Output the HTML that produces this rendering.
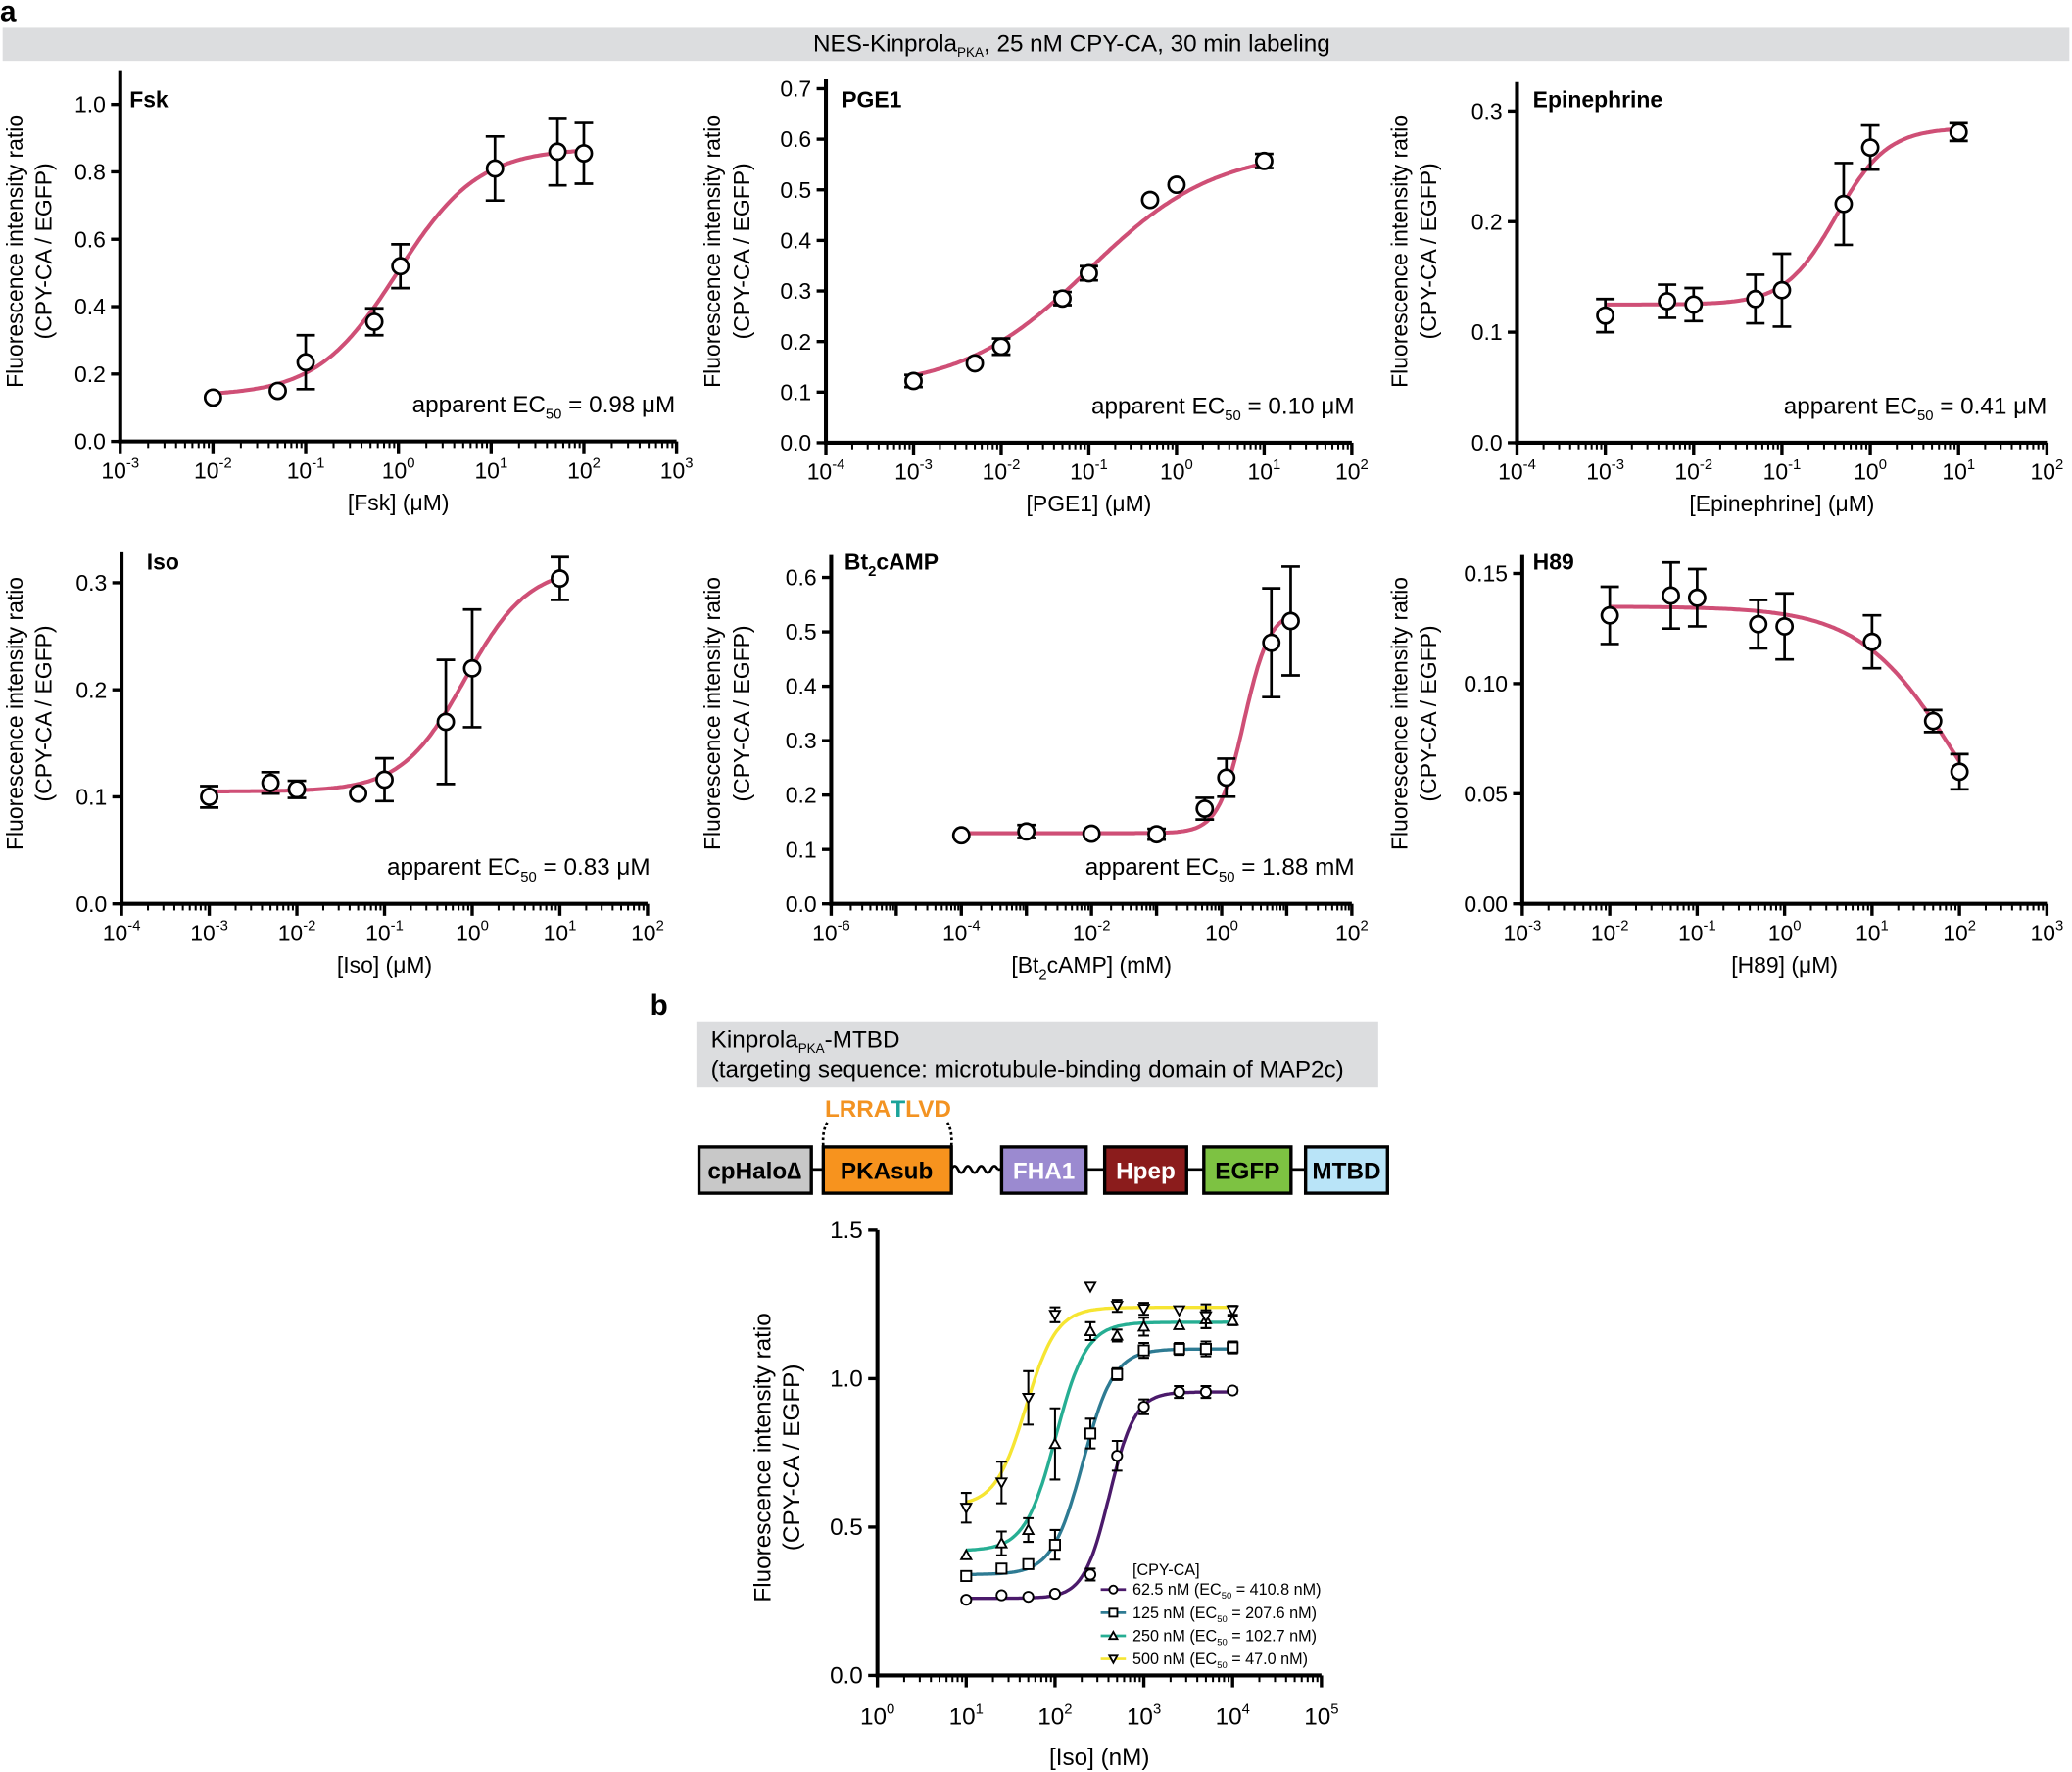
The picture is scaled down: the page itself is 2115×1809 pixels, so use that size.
<!DOCTYPE html>
<html><head><meta charset="utf-8"><style>
html,body{margin:0;padding:0;background:#fff}
svg{display:block}
text{font-family:"Liberation Sans",sans-serif}
</style></head><body>
<svg id="s" width="2115" height="1809" viewBox="0 0 1568 1341" xmlns="http://www.w3.org/2000/svg">
<text x="0" y="16" font-size="22" font-weight="bold">a</text>
<rect x="2" y="21" width="1564" height="25" fill="#dcdddf"/>
<text x="811" y="39" font-size="18" text-anchor="middle">NES-Kinprola<tspan font-size="10" dy="4">PKA</tspan><tspan dy="-4">, 25 nM CPY-CA, 30 min labeling</tspan></text>
<text x="492" y="768" font-size="22" font-weight="bold">b</text>
<rect x="527" y="773" width="516" height="50" fill="#dcdddf"/>
<text x="538" y="793" font-size="18">Kinprola<tspan font-size="10" dy="4">PKA</tspan><tspan dy="-4">-MTBD</tspan></text>
<text x="538" y="815" font-size="18">(targeting sequence: microtubule-binding domain of MAP2c)</text>
<text x="672" y="845" font-size="18" font-weight="bold" text-anchor="middle" fill="#f39322">LRRA<tspan fill="#1aa39a">T</tspan>LVD</text>
<path d="M623 867 Q622 855 627 848 M720 867 Q721 855 716 848" stroke="#000" stroke-width="2" stroke-dasharray="2,2" fill="none"/>
<g stroke="#000" stroke-width="2">
<line x1="614" y1="885" x2="623" y2="885"/><line x1="822" y1="885" x2="836" y2="885"/><line x1="898" y1="885" x2="911" y2="885"/><line x1="977" y1="885" x2="988" y2="885"/>
<path d="M720 885 q2.5 -5 5 0 q2.5 5 5 0 q2.5 -5 5 0 q2.5 5 5 0 q2.5 -5 5 0 q2.5 5 5 0 q2.5 -5 5 0" fill="none"/>
<line x1="755" y1="885" x2="758" y2="885"/>
<rect x="529" y="868" width="85" height="35" fill="#c8c8c8" stroke-width="2.5"/>
<rect x="623" y="868" width="97" height="35" fill="#f7931e" stroke-width="2.5"/>
<rect x="758" y="868" width="64" height="35" fill="#9b8ad0" stroke-width="2.5"/>
<rect x="836" y="868" width="62" height="35" fill="#8b1c1c" stroke-width="2.5"/>
<rect x="911" y="868" width="66" height="35" fill="#7dc242" stroke-width="2.5"/>
<rect x="988" y="868" width="62" height="35" fill="#b9e4f8" stroke-width="2.5"/>
</g>
<g font-size="18" font-weight="bold" text-anchor="middle">
<text x="571" y="892">cpHalo∆</text><text x="671" y="892">PKAsub</text>
<text x="790" y="892" fill="#fff">FHA1</text><text x="867" y="892" fill="#fff">Hpep</text>
<text x="944" y="892">EGFP</text><text x="1019" y="892">MTBD</text>
</g>
<g id="plots"></g>
</svg>
<script>
var out="";
function sig(x,b,t,ec,h){return b+(t-b)/(1+Math.pow(ec/x,h));}
function sup(base,e,fs){return base+'<tspan font-size="'+Math.round(fs*0.62)+'" dy="-8">'+e+'</tspan>';}
function plot(p){
 var X=function(v){return p.x0+(Math.log10(v)-p.l0)/(p.l1-p.l0)*(p.x1-p.x0);};
 var Y=function(v){return p.y0-(v/p.ymax)*(p.y0-p.y1);};
 var fs=p.fs||17,s="",step=p.step||1;
 s+='<line x1="'+p.x0+'" y1="'+p.top+'" x2="'+p.x0+'" y2="'+(p.y0+1.5)+'" stroke="#000" stroke-width="3"/>';
 s+='<line x1="'+(p.x0-1.5)+'" y1="'+p.y0+'" x2="'+p.x1+'" y2="'+p.y0+'" stroke="#000" stroke-width="3"/>';
 for(var i=0;i<p.yt.length;i++){var yy=Y(p.yt[i]);
  s+='<line x1="'+(p.x0-7)+'" y1="'+yy+'" x2="'+p.x0+'" y2="'+yy+'" stroke="#000" stroke-width="2.5"/>';
  s+='<text x="'+(p.x0-11)+'" y="'+(yy+6)+'" font-size="'+fs+'" text-anchor="end">'+p.ytl[i]+'</text>';}
 for(var d=p.l0;d<=p.l1;d++){var xx=X(Math.pow(10,d));
  s+='<line x1="'+xx+'" y1="'+p.y0+'" x2="'+xx+'" y2="'+(p.y0+9)+'" stroke="#000" stroke-width="2.5"/>';
  if((d-p.l0)%step==0)s+='<text x="'+xx+'" y="'+(p.y0+(p.tly||28))+'" font-size="'+fs+'" text-anchor="middle">'+sup('10',d,fs)+'</text>';
  if(d<p.l1)for(var m=2;m<10;m++){var xm=X(m*Math.pow(10,d));s+='<line x1="'+xm+'" y1="'+p.y0+'" x2="'+xm+'" y2="'+(p.y0+5)+'" stroke="#000" stroke-width="1.5"/>';}}
 s+='<text x="'+((p.x0+p.x1)/2)+'" y="'+(p.y0+(p.xly||52))+'" font-size="'+fs+'" text-anchor="middle">'+p.xl+'</text>';
 s+='<text transform="translate('+p.ylx+','+p.yly+') rotate(-90)" font-size="'+fs+'" text-anchor="middle"><tspan x="0" y="0">Fluorescence intensity ratio</tspan><tspan x="0" y="22">(CPY-CA / EGFP)</tspan></text>';
 if(p.title)s+='<text x="'+p.tx+'" y="'+p.ty+'" font-size="17" font-weight="bold">'+p.title+'</text>';
 if(p.ec)s+='<text x="'+p.ecx+'" y="'+(p.y0-22)+'" font-size="18" text-anchor="end">'+p.ec+'</text>';
 for(var k=0;k<p.series.length;k++){var S=p.series[k];
  var a=Math.log10(S.d[0][0]),b=Math.log10(S.d[S.d.length-1][0]),pts=[];
  for(var j=0;j<=200;j++){var lx=a+(b-a)*j/200;pts.push(X(Math.pow(10,lx)).toFixed(1)+","+Y(S.f(Math.pow(10,lx))).toFixed(1));}
  s+='<polyline points="'+pts.join(" ")+'" fill="none" stroke="'+S.c+'" stroke-width="'+S.w+'"/>';
  for(var j=0;j<S.d.length;j++){var q=S.d[j],cx=X(q[0]),cy=Y(q[1]);
   if(q[2]>0){var t=Y(q[1]+q[2]),bo=Y(q[1]-q[2]),cw=S.cap;
    s+='<path d="M'+cx+' '+t+'V'+bo+'M'+(cx-cw)+' '+t+'H'+(cx+cw)+'M'+(cx-cw)+' '+bo+'H'+(cx+cw)+'" stroke="#000" stroke-width="'+S.ew+'" fill="none"/>';}
   s+=marker(S.m,cx,cy,S.r);}}
 if(p.extra)s+=p.extra;
 out+=s;}
function marker(m,x,y,r){
 var st=' fill="#fff" stroke="#000" stroke-width="'+(m=="o"?2:1.4)+'"';
 if(m=="o"||m=="c")return '<circle cx="'+x+'" cy="'+y+'" r="'+r+'"'+st+'/>';
 if(m=="s")return '<rect x="'+(x-r)+'" y="'+(y-r)+'" width="'+2*r+'" height="'+2*r+'"'+st+'/>';
 if(m=="t")return '<path d="M'+x+' '+(y-r)+'L'+(x+r)+' '+(y+r*0.8)+'L'+(x-r)+' '+(y+r*0.8)+'Z"'+st+'/>';
 return '<path d="M'+x+' '+(y+r)+'L'+(x+r)+' '+(y-r*0.8)+'L'+(x-r)+' '+(y-r*0.8)+'Z"'+st+'/>';}
var PK="#cf4f76";
function one(f,d){return [{f:f,d:d,c:PK,w:3,m:"o",r:6,cap:7,ew:2}];}
var ec=function(v,u){return 'apparent EC<tspan font-size="11" dy="5">50</tspan><tspan dy="-5"> = '+v+' '+u+'</tspan>';};
plot({x0:91,x1:512,l0:-3,l1:3,y0:334,y1:79,ymax:1,top:53,yt:[0,.2,.4,.6,.8,1],ytl:["0.0","0.2","0.4","0.6","0.8","1.0"],xl:"[Fsk] (μM)",ylx:17,yly:190,title:"Fsk",tx:98,ty:81,ec:ec("0.98","μM"),ecx:511,
 series:one(function(x){return sig(x,.135,.87,.98,1);},[[.01,.13,0],[.05,.15,0],[.1,.235,.08],[.55,.355,.04],[1.05,.52,.065],[11,.81,.095],[52,.86,.1],[100,.855,.09]])});
plot({x0:625,x1:1023,l0:-4,l1:2,y0:335,y1:67,ymax:.7,top:60,yt:[0,.1,.2,.3,.4,.5,.6,.7],ytl:["0.0","0.1","0.2","0.3","0.4","0.5","0.6","0.7"],xl:"[PGE1] (μM)",ylx:545,yly:190,title:"PGE1",tx:637,ty:81,ec:ec("0.10","μM"),ecx:1025,
 series:one(function(x){return sig(x,.105,.58,.1,.6);},[[.001,.122,.012],[.005,.157,0],[.01,.19,.016],[.05,.285,.013],[.1,.335,.014],[.5,.48,0],[1,.51,0],[10,.557,.014]])});
plot({x0:1148,x1:1549,l0:-4,l1:2,y0:335,y1:84,ymax:.3,top:62,yt:[0,.1,.2,.3],ytl:["0.0","0.1","0.2","0.3"],xl:"[Epinephrine] (μM)",ylx:1065,yly:190,title:"Epinephrine",tx:1160,ty:81,ec:ec("0.41","μM"),ecx:1549,
 series:one(function(x){return sig(x,.125,.285,.41,1.5);},[[.001,.115,.015],[.005,.128,.015],[.01,.125,.015],[.05,.13,.022],[.1,.138,.033],[.5,.216,.037],[1,.267,.02],[10,.281,.008]])});
plot({x0:92,x1:490,l0:-4,l1:2,y0:684,y1:441,ymax:.3,top:418,yt:[0,.1,.2,.3],ytl:["0.0","0.1","0.2","0.3"],xl:"[Iso] (μM)",ylx:17,yly:540,title:"Iso",tx:111,ty:431,ec:ec("0.83","μM"),ecx:492,
 series:one(function(x){return sig(x,.105,.315,.83,1.2);},[[.001,.1,.01],[.005,.113,.01],[.01,.107,.008],[.05,.103,0],[.1,.116,.02],[.5,.17,.058],[1,.22,.055],[10,.304,.02]])});
plot({x0:629,x1:1023,l0:-6,l1:2,step:2,y0:684,y1:437,ymax:.6,top:420,yt:[0,.1,.2,.3,.4,.5,.6],ytl:["0.0","0.1","0.2","0.3","0.4","0.5","0.6"],xl:"[Bt<tspan font-size=\"11\" dy=\"5\">2</tspan><tspan dy=\"-5\">cAMP] (mM)</tspan>",ylx:545,yly:540,title:"Bt<tspan font-size=\"11\" dy=\"5\">2</tspan><tspan dy=\"-5\">cAMP</tspan>",tx:639,ty:431,ec:ec("1.88","mM"),ecx:1025,
 series:one(function(x){return sig(x,.13,.54,2.2,2.2);},[[.0001,.126,0],[.001,.133,.012],[.01,.129,0],[.1,.128,.01],[.55,.175,.02],[1.18,.232,.035],[5.8,.48,.1],[11.5,.52,.1]])});
plot({x0:1152,x1:1549,l0:-3,l1:3,y0:684,y1:434,ymax:.15,top:420,yt:[0,.05,.1,.15],ytl:["0.00","0.05","0.10","0.15"],xl:"[H89] (μM)",ylx:1065,yly:540,title:"H89",tx:1160,ty:431,
 series:one(function(x){return .135/(1+Math.pow(x/90,.8));},[[.01,.131,.013],[.05,.14,.015],[.1,.139,.013],[.5,.127,.011],[1,.126,.015],[10,.119,.012],[50,.083,.005],[100,.06,.008]])});
var xs=[10,25,50,100,250,500,1000,2500,5000,10000];
function ser(b,t,e,h,c,m,ys,es){return {f:function(x){return sig(x,b,t,e,h);},d:xs.map(function(x,i){return [x,ys[i],es[i]];}),c:c,w:2.5,m:m,r:3.8,cap:4,ew:1.5};}
var leg='<text x="857" y="1192" font-size="12">[CPY-CA]</text>';
var L=[["#4b1a6b","c","62.5 nM (EC","= 410.8 nM)"],["#2e7b93","s","125 nM (EC","= 207.6 nM)"],["#26ae93","t","250 nM (EC","= 102.7 nM)"],["#f6e532","v","500 nM (EC","= 47.0 nM)"]];
for(var i=0;i<4;i++){var y=1203+i*17.5;leg+='<line x1="833" y1="'+y+'" x2="852" y2="'+y+'" stroke="'+L[i][0]+'" stroke-width="2"/>'+marker(L[i][1],842.5,y,3)+'<text x="857" y="'+(y+4)+'" font-size="12">'+L[i][2]+'<tspan font-size="7" dy="3">50</tspan><tspan dy="-3"> '+L[i][3]+'</tspan></text>';}
plot({x0:664,x1:1000,l0:0,l1:5,fs:18,tly:37,xly:68,y0:1268,y1:931,ymax:1.5,top:931,yt:[0,.5,1,1.5],ytl:["0.0","0.5","1.0","1.5"],xl:"[Iso] (nM)",ylx:583,yly:1103,extra:leg,
 series:[
 ser(.26,.955,410,3,"#4b1a6b","c",[.255,.27,.265,.275,.34,.74,.905,.955,.955,.96],[0,0,0,0,.02,.05,.025,.02,.02,.01]),
 ser(.34,1.1,207,2.5,"#2e7b93","s",[.335,.36,.375,.44,.815,1.015,1.095,1.1,1.1,1.105],[0,0,0,.05,.05,.02,.025,.02,.025,.02]),
 ser(.42,1.19,102,2.5,"#26ae93","t",[.405,.445,.49,.78,1.16,1.145,1.175,1.18,1.2,1.195],[0,.04,.04,.12,.03,.02,.03,0,.03,.015]),
 ser(.57,1.24,47,2.5,"#f6e532","v",[.565,.65,.935,1.215,1.31,1.245,1.235,1.23,1.21,1.23],[.05,.07,.09,.025,0,.02,.02,0,.04,.015])]});
document.getElementById("plots").innerHTML=out;
</script>
</body></html>
